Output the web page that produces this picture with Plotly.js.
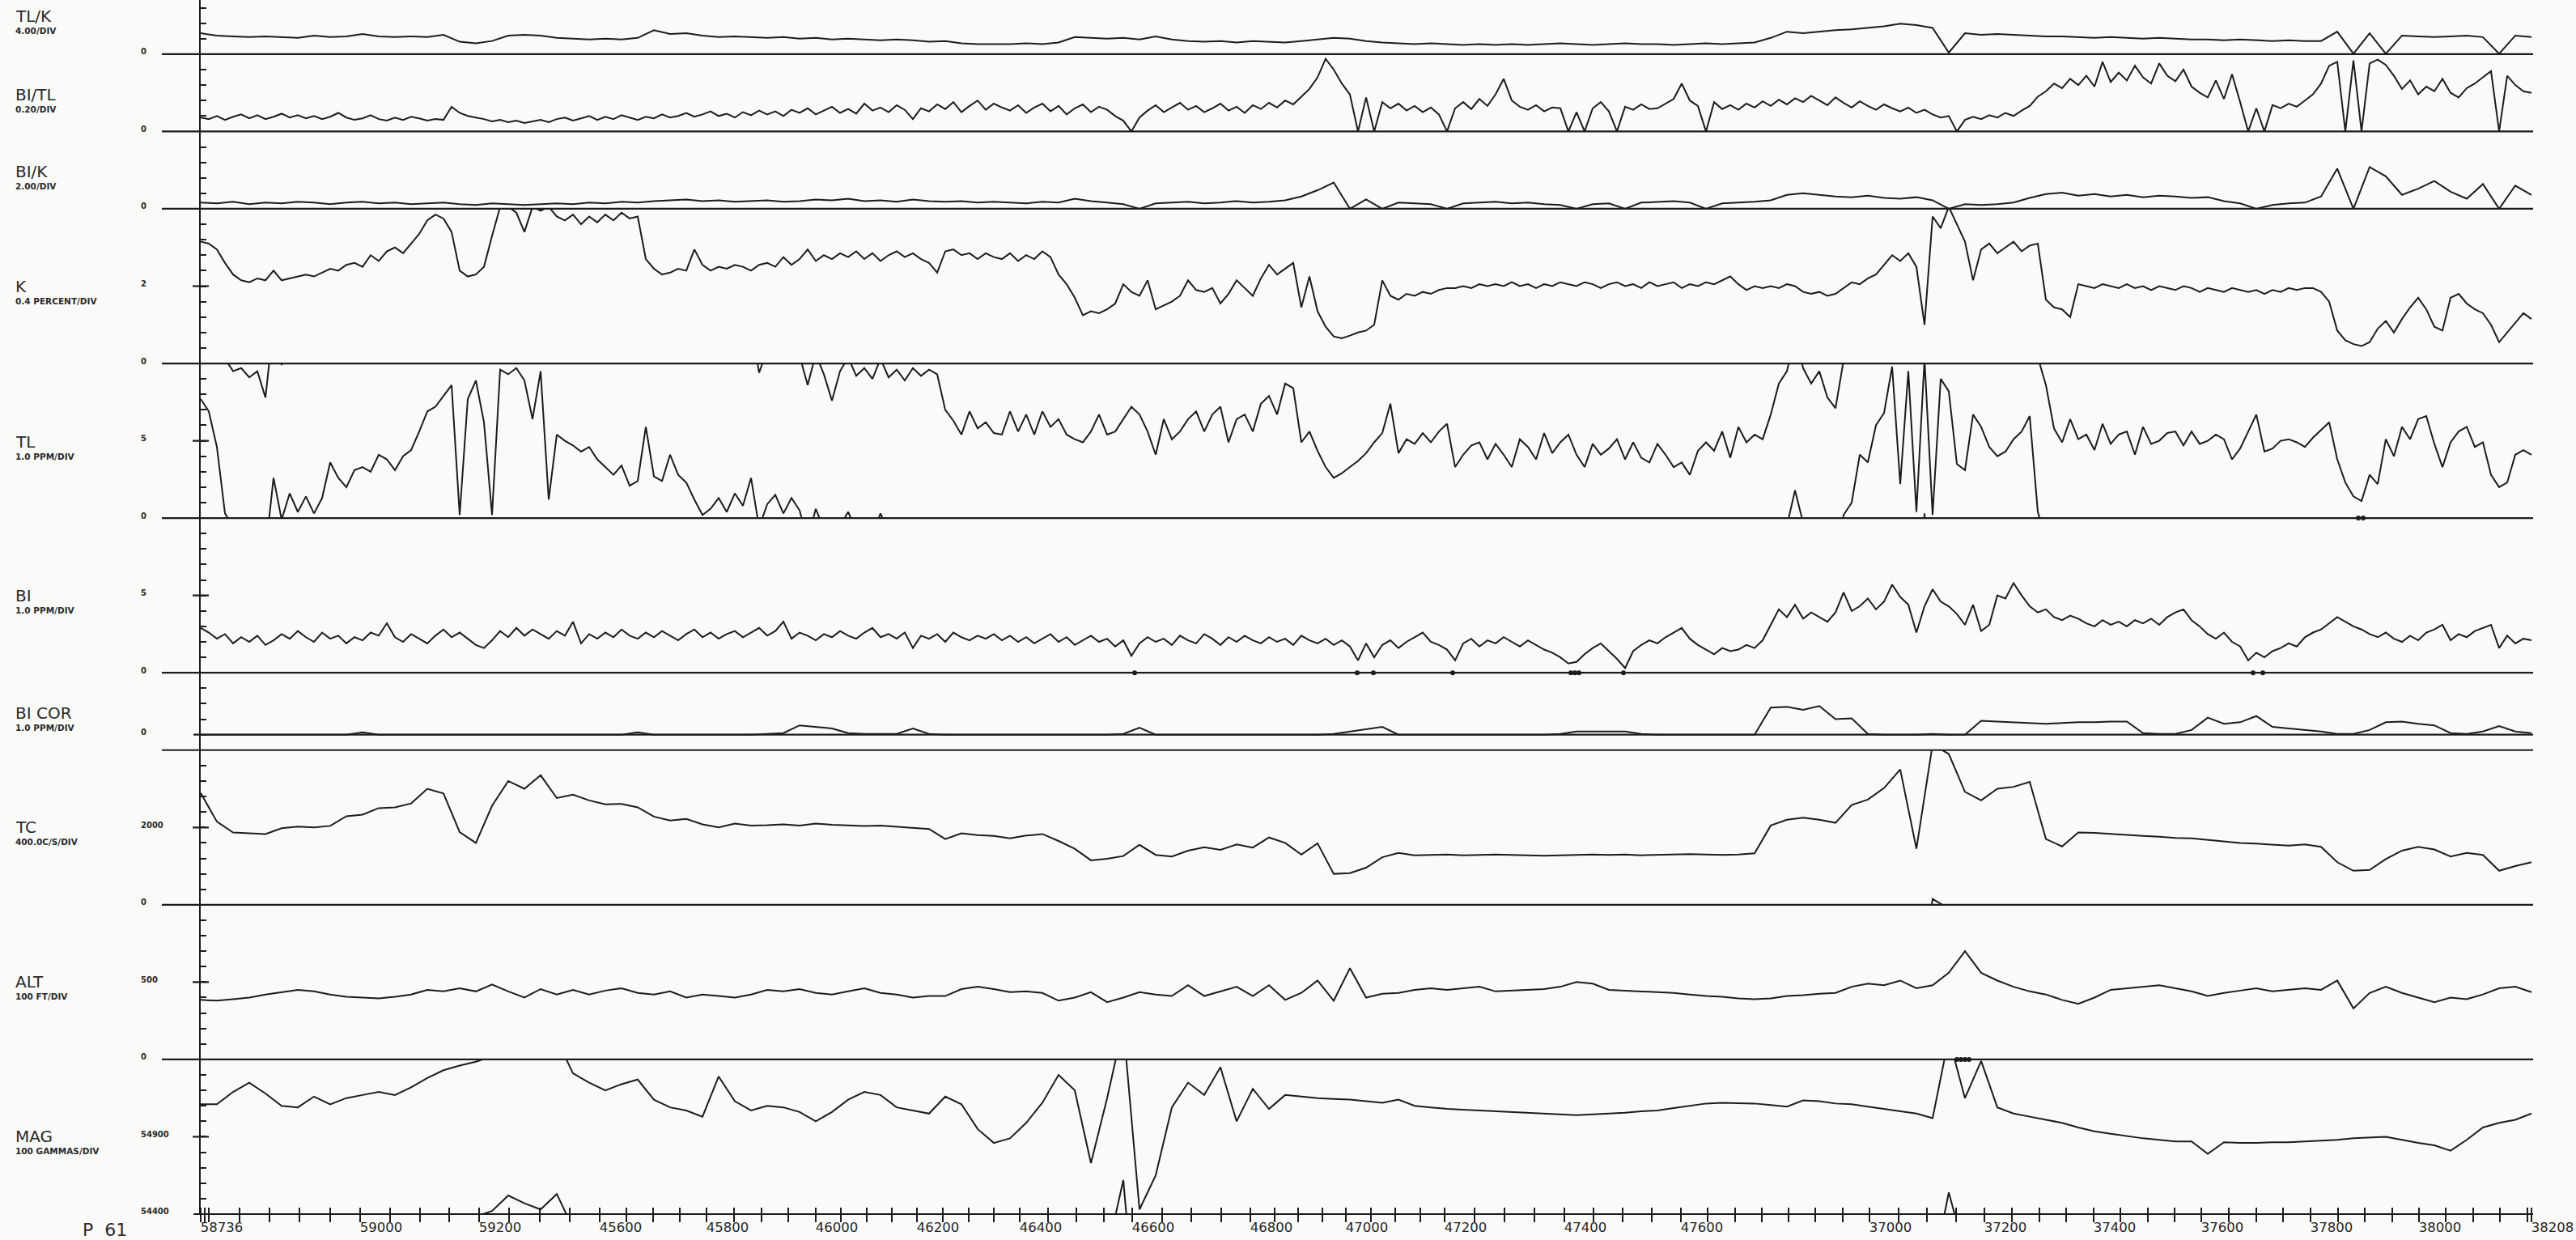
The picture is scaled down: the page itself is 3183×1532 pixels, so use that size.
<!DOCTYPE html>
<html>
<head>
<meta charset="utf-8">
<script src="https://cdn.plot.ly/plotly-3.0.1.min.js"></script>
<style>
  html, body { margin: 0; padding: 0; background: #fafaf8; }
  #chart { width: 3183px; height: 1532px; }
</style>
</head>
<body>
<div id="chart"></div>
<script>
// ---- Flight line P 61: fiducial labels and their record positions ----
const fidLabels = ['58736','59000','59200','45600','45800','46000','46200','46400','46600','46800','47000','47200','47400','47600','37000','37200','37400','37600','37800','38000','38208'];
const fidPos = [0,19.7,34.4,49.3,62.5,76.0,88.5,101.2,115.1,129.7,141.5,153.7,168.5,182.9,206.2,220.4,233.9,247.2,260.7,274.1,288.0];

// ---- Profiles (records 0..288; step 2 series every other record) ----
const tlk = [
5.4,4.8,4.6,4.4,4.6,4.4,4.2,4.8,4.4,4.6,
5.2,4.6,4.4,4.6,4.4,5.0,3.2,2.8,3.4,4.8,
5.0,4.8,4.2,4.0,3.8,4.0,3.8,4.2,6.2,5.2,
5.4,4.8,4.4,4.6,4.4,4.2,4.4,4.0,4.2,3.8,
4.0,3.8,3.6,3.8,3.6,3.2,3.4,2.8,2.6,2.6,
2.6,2.8,2.6,3.0,4.4,4.2,4.0,4.2,3.8,4.6,
3.8,3.4,3.2,3.4,3.0,3.4,3.2,3.0,3.4,3.8,
4.2,4.0,3.4,3.0,2.8,2.6,2.8,2.6,2.4,2.6,
2.4,2.6,2.4,2.6,2.8,2.6,2.4,2.6,2.8,2.6,
2.6,2.4,2.6,2.8,2.6,2.8,3.0,4.2,5.8,5.4,
5.8,6.2,6.4,6.8,7.2,7.9,7.5,6.8,0.4,5.4,
5.0,5.2,5.0,4.8,4.6,4.6,4.4,4.2,4.4,4.2,
4.0,4.2,4.0,3.8,3.8,3.6,3.8,3.6,3.4,3.6,
3.4,3.4,5.8,0.1,5.4,0.1,4.8,4.6,4.4,4.6,
4.8,4.4,0.1,4.8,4.4];

const bitl = [
0.18,0.16,0.20,0.15,0.19,0.22,0.17,0.21,0.16,0.19,
0.23,0.18,0.21,0.17,0.20,0.16,0.19,0.24,0.18,0.15,
0.17,0.21,0.16,0.14,0.18,0.15,0.19,0.17,0.14,0.16,
0.15,0.32,0.24,0.20,0.18,0.16,0.13,0.15,0.12,0.14,
0.11,0.13,0.15,0.12,0.16,0.18,0.14,0.17,0.20,0.15,
0.19,0.16,0.21,0.18,0.15,0.19,0.17,0.22,0.18,0.20,
0.24,0.19,0.22,0.26,0.20,0.23,0.18,0.25,0.21,0.27,
0.22,0.26,0.20,0.28,0.24,0.30,0.22,0.27,0.32,0.24,
0.29,0.23,0.36,0.27,0.31,0.25,0.34,0.28,0.16,0.30,
0.26,0.35,0.29,0.38,0.25,0.33,0.40,0.28,0.36,0.31,
0.27,0.34,0.24,0.31,0.36,0.26,0.33,0.22,0.30,0.35,
0.25,0.32,0.28,0.20,0.14,0.00,0.18,0.27,0.34,0.25,
0.31,0.37,0.28,0.33,0.25,0.30,0.36,0.27,0.32,0.24,
0.34,0.29,0.37,0.31,0.40,0.35,0.45,0.55,0.70,0.94,
0.80,0.62,0.48,0.00,0.44,0.00,0.38,0.30,0.36,0.27,
0.33,0.25,0.31,0.22,0.00,0.30,0.38,0.29,0.42,0.33,
0.48,0.68,0.40,0.32,0.28,0.34,0.26,0.31,0.30,0.00,
0.25,0.00,0.30,0.38,0.26,0.00,0.32,0.28,0.35,0.29,
0.30,0.36,0.42,0.62,0.40,0.33,0.00,0.38,0.29,0.34,
0.28,0.36,0.31,0.39,0.33,0.41,0.35,0.43,0.38,0.46,
0.40,0.34,0.44,0.37,0.31,0.39,0.33,0.28,0.35,0.30,
0.26,0.31,0.24,0.28,0.22,0.18,0.20,0.00,0.15,0.19,
0.16,0.21,0.18,0.24,0.20,0.27,0.33,0.45,0.52,0.62,
0.56,0.68,0.60,0.72,0.58,0.90,0.64,0.76,0.66,0.85,
0.70,0.62,0.88,0.72,0.65,0.80,0.58,0.50,0.44,0.66,
0.42,0.74,0.38,0.00,0.30,0.00,0.34,0.30,0.36,0.32,
0.40,0.48,0.62,0.85,0.90,0.00,0.92,0.00,0.88,0.93,
0.86,0.72,0.55,0.66,0.48,0.58,0.52,0.68,0.50,0.44,
0.56,0.62,0.70,0.78,0.00,0.72,0.60,0.52,0.50];

const bik = [
0.8,0.7,0.9,0.6,0.8,0.7,0.9,0.8,0.6,0.8,
0.9,0.7,0.8,0.6,0.7,0.8,0.6,0.5,0.7,0.6,
0.5,0.6,0.7,0.6,0.8,0.7,0.9,0.8,1.0,1.1,
1.2,1.0,1.1,0.9,1.0,1.1,0.9,1.0,1.2,1.1,
1.3,1.0,1.1,0.9,1.2,1.0,0.9,1.0,0.8,0.9,
0.8,0.7,0.9,0.8,1.3,1.0,0.8,0.6,0.0,0.7,
0.8,0.9,0.7,0.8,1.0,0.8,0.9,1.1,1.6,2.4,
3.4,0.0,1.2,0.0,0.8,0.7,0.6,0.0,0.7,0.8,
0.9,0.7,0.8,0.6,0.5,0.0,0.6,0.7,0.0,0.8,
0.9,1.0,0.8,0.0,0.7,0.8,0.9,1.1,1.8,2.0,
1.8,1.6,1.5,1.7,1.4,1.3,1.5,1.1,0.0,0.6,
0.5,0.6,0.8,1.4,1.9,2.1,1.7,1.9,1.6,1.8,
1.5,1.7,1.6,1.4,1.5,1.0,0.7,0.0,0.5,0.7,
0.8,1.6,5.2,0.0,5.4,4.2,1.8,2.6,3.6,2.2,
1.3,3.2,0.0,3.0,1.8];

const kpct = [
3.15,3.10,2.95,2.60,2.30,2.15,2.10,2.20,2.15,2.40,
2.15,2.20,2.25,2.30,2.25,2.35,2.45,2.40,2.55,2.60,
2.50,2.80,2.65,2.90,3.00,2.85,3.10,3.35,3.70,3.85,
3.75,3.40,2.40,2.25,2.30,2.50,3.30,4.05,4.05,3.90,
3.40,4.05,3.95,4.05,3.80,3.70,3.85,3.60,3.80,3.65,
3.85,3.70,3.90,3.75,3.80,2.70,2.45,2.30,2.35,2.45,
2.40,2.95,2.55,2.40,2.50,2.45,2.55,2.50,2.40,2.55,
2.60,2.50,2.75,2.55,2.70,2.95,2.65,2.80,2.70,2.85,
2.75,2.90,2.70,2.85,2.65,2.80,2.90,2.75,2.85,2.70,
2.60,2.35,2.90,2.95,2.80,2.85,2.70,2.85,2.75,2.70,
2.85,2.65,2.80,2.70,2.90,2.75,2.30,2.05,1.70,1.25,
1.35,1.30,1.40,1.55,2.05,1.85,1.75,2.15,1.40,1.50,
1.60,1.75,2.15,1.90,1.85,1.95,1.55,1.80,2.15,1.95,
1.75,2.20,2.55,2.30,2.45,2.60,1.45,2.25,1.35,0.95,
0.70,0.65,0.72,0.80,0.85,1.00,2.15,1.75,1.65,1.80,
1.75,1.85,1.80,1.90,1.95,1.95,2.00,1.95,2.05,2.00,
2.05,2.00,2.10,2.00,2.05,1.95,2.05,2.00,2.10,2.05,
2.00,2.10,2.05,1.95,2.05,2.10,2.00,2.05,1.95,2.10,
2.00,2.05,2.10,1.95,2.05,2.00,2.10,2.05,2.15,2.25,
2.05,1.90,2.00,1.95,2.00,1.95,2.05,2.00,1.85,1.80,
1.85,1.75,1.80,1.95,2.10,2.05,2.20,2.30,2.55,2.80,
2.65,2.85,2.50,1.00,3.80,3.50,4.05,3.60,3.15,2.15,
2.95,3.10,2.85,3.00,3.15,2.90,3.05,3.10,1.65,1.45,
1.40,1.20,2.05,2.00,1.95,2.05,2.00,1.95,2.05,1.95,
2.00,1.90,2.00,1.95,1.90,2.00,1.95,1.85,1.95,1.90,
1.85,1.95,1.90,1.85,1.90,1.80,1.90,1.85,1.95,1.90,
1.95,1.95,1.85,1.60,0.85,0.60,0.50,0.45,0.55,0.90,
1.10,0.80,1.15,1.45,1.70,1.40,0.95,0.85,1.70,1.80,
1.55,1.40,1.30,1.00,0.55,0.80,1.05,1.30,1.15];

const tl = [
17.7,16.9,14.6,10.3,9.5,9.7,9.1,9.5,7.8,12.6,
9.9,11.6,10.4,11.4,10.3,11.3,13.6,12.6,12.0,13.1,
13.3,13.0,14.1,13.8,13.1,14.0,14.4,15.6,16.9,17.2,
17.9,18.6,10.2,17.7,18.9,16.2,10.2,19.6,19.3,19.7,
18.9,16.4,19.5,11.2,15.4,15.0,14.7,14.3,14.6,13.8,
13.3,12.8,13.4,12.1,12.4,15.9,12.7,12.4,14.1,12.8,
12.3,11.2,10.2,10.6,11.3,10.4,11.6,10.8,12.6,9.4,
10.9,11.5,10.3,11.3,10.5,8.6,10.6,9.3,7.6,9.5,
10.4,9.2,9.7,9.0,10.3,9.1,9.6,8.9,9.7,9.2,
9.6,9.3,7.0,6.3,5.4,6.9,5.8,6.2,5.5,5.4,
6.9,5.6,6.7,5.4,6.9,5.9,6.4,5.4,5.1,4.9,
5.6,6.7,5.4,5.6,6.4,7.2,6.7,5.6,4.1,6.4,
5.1,5.6,6.4,6.9,5.6,6.7,7.2,4.9,6.4,6.7,
5.6,7.4,7.9,6.7,8.7,8.4,4.9,5.6,4.35,3.3,
2.6,2.9,3.3,3.7,4.2,4.9,5.5,7.4,4.2,5.1,
4.8,5.5,4.9,5.6,6.1,3.3,4.1,4.7,4.9,3.8,
4.8,4.1,3.3,5.1,4.6,3.8,5.5,4.2,4.9,5.4,
4.1,3.3,4.8,4.1,4.5,5.1,3.8,4.9,3.9,3.6,
4.8,4.1,3.3,3.6,2.8,4.35,4.9,4.35,5.6,3.9,
5.9,4.9,5.4,5.1,6.7,8.7,9.5,11.8,9.7,8.7,
9.5,7.8,7.1,10.2,11.0,14.1,13.6,16.0,16.8,19.8,
12.2,19.5,10.4,20.3,10.2,19.0,18.2,13.5,13.1,16.7,
15.9,14.6,14.0,14.3,15.1,15.6,16.6,10.4,8.6,5.8,
4.9,6.4,5.1,5.4,4.4,6.1,4.8,5.4,5.6,4.1,
5.9,4.8,5.0,5.5,5.6,4.7,5.6,4.8,5.0,5.4,
5.1,3.8,4.5,5.6,6.7,4.3,4.5,5.0,5.1,4.9,
4.6,5.2,5.7,6.2,3.8,2.3,1.4,1.1,2.8,2.2,
5.1,4.0,5.9,5.1,6.4,6.6,4.8,3.3,4.9,5.6,
5.9,4.6,4.9,2.8,2.0,2.3,4.1,4.4,4.1];

const bi = [
2.9,2.6,2.2,2.5,1.9,2.3,2.0,2.4,1.8,2.1,
2.5,2.2,2.7,2.3,2.0,2.6,2.2,2.4,1.9,2.3,
2.1,2.6,2.4,3.2,2.3,2.0,2.5,2.2,1.9,2.4,
2.8,2.3,2.6,2.2,1.8,1.6,2.1,2.7,2.3,2.9,
2.4,2.8,2.5,2.2,2.7,2.4,3.3,1.9,2.5,2.2,
2.6,2.3,2.8,2.4,2.2,2.6,2.3,2.7,2.4,2.1,
2.5,2.8,2.3,2.6,2.2,2.5,2.7,2.3,2.6,2.9,
2.4,2.7,3.3,2.2,2.6,2.4,2.1,2.5,2.3,2.7,
2.4,2.2,2.6,2.9,2.3,2.5,2.2,2.6,1.6,2.4,
2.2,2.5,2.0,2.6,2.3,2.1,2.4,2.2,2.5,2.1,
2.4,2.0,2.3,1.9,2.2,2.5,2.0,2.3,1.8,2.1,
2.4,2.0,2.2,1.7,2.1,1.1,1.9,2.3,2.0,2.2,
1.8,2.4,2.1,1.9,2.5,2.2,1.8,2.3,2.0,2.4,
2.1,1.9,2.3,2.0,2.2,1.8,2.4,2.1,1.9,2.2,
1.8,2.1,1.7,0.8,1.9,1.0,1.8,2.1,1.6,2.0,
2.3,2.6,2.0,1.8,1.5,0.8,1.9,2.2,1.7,2.1,
1.9,2.3,2.0,1.7,2.1,1.8,1.5,1.3,1.0,0.6,
0.7,1.2,1.6,1.9,1.4,0.9,0.3,1.4,1.8,2.1,
1.9,2.3,2.6,2.9,2.2,1.8,1.5,1.2,1.6,1.4,
1.5,1.8,1.6,2.1,3.1,4.1,3.6,4.4,3.5,3.9,
3.6,3.3,3.9,5.2,4.0,4.3,4.8,4.1,4.6,5.7,
4.9,4.4,2.6,4.3,5.4,4.6,4.3,3.8,3.1,4.4,
2.7,3.1,5.0,4.8,5.8,5.0,4.3,3.9,4.1,3.6,
3.4,3.7,3.5,3.2,3.0,3.4,3.1,3.3,3.0,3.4,
3.2,3.5,3.1,3.6,3.9,4.1,3.4,3.0,2.5,2.2,
2.6,2.0,1.7,0.8,1.3,1.0,1.4,1.6,1.9,1.7,
2.3,2.6,2.8,3.2,3.6,3.3,3.0,2.8,2.5,2.3,
2.6,2.2,2.0,2.4,2.1,2.6,2.8,3.1,2.1,2.5,
2.3,2.7,2.9,3.1,1.6,2.4,1.9,2.2,2.1];

const bicor = [
0,0,0,0,0,0,0,0,0,0,
0.15,0,0,0,0,0,0,0,0,0,
0,0,0,0,0,0,0,0.15,0,0,
0,0,0,0,0,0.05,0.1,0.6,0.5,0.4,
0.1,0.05,0.05,0.05,0.4,0.05,0,0,0,0,
0,0,0,0,0,0,0,0.05,0.45,0,
0,0,0,0,0,0,0,0,0,0,
0.05,0.2,0.35,0.5,0,0,0,0,0,0,
0,0,0,0,0.05,0.2,0.2,0.2,0.2,0.05,
0,0,0,0,0,0,0,1.75,1.8,1.6,
1.85,1.0,1.05,0.05,0,0,0,0.05,0,0,
0.9,0.85,0.8,0.75,0.7,0.75,0.8,0.8,0.85,0.85,
0.1,0.05,0.05,0.3,1.1,0.7,0.8,1.2,0.5,0.4,
0.3,0.2,0.05,0.05,0.3,0.8,0.85,0.7,0.6,0.1,
0.05,0.2,0.55,0.2,0.1];

const tc = [
2890,2150,1870,1850,1830,1980,2020,2000,2040,2290,
2330,2500,2520,2620,3000,2880,1880,1600,2560,3200,
3000,3350,2760,2850,2700,2600,2610,2520,2280,2180,
2220,2080,2000,2100,2050,2060,2080,2050,2100,2070,
2060,2040,2050,2020,2000,1960,1700,1850,1800,1780,
1720,1790,1830,1650,1450,1150,1190,1260,1550,1290,
1250,1400,1490,1420,1560,1480,1740,1600,1300,1590,
800,820,960,1230,1340,1280,1290,1300,1280,1290,
1300,1290,1280,1270,1280,1290,1300,1290,1300,1280,
1290,1300,1310,1300,1290,1300,1330,2050,2200,2250,
2200,2120,2580,2720,3020,3500,1450,4150,3900,2920,
2700,3000,3050,3180,1700,1510,1870,1860,1830,1800,
1780,1760,1730,1720,1680,1650,1600,1580,1550,1530,
1560,1500,1100,880,900,1180,1400,1500,1430,1250,
1340,1290,880,1000,1100];

const alt = [
385,380,390,400,420,435,450,440,420,405,
400,395,405,420,450,440,460,440,485,440,
400,455,420,450,420,445,460,430,420,440,
400,420,410,400,420,450,440,455,430,420,
440,460,430,420,400,410,410,455,470,455,
435,440,430,380,400,435,370,400,435,420,
410,480,410,440,470,410,480,385,430,510,
380,590,400,425,430,450,460,450,460,470,
440,445,450,455,470,500,490,450,445,440,
435,430,420,410,405,395,390,395,410,415,
425,430,470,490,480,510,460,480,560,700,
560,510,470,440,420,385,360,400,450,460,
470,480,460,440,410,430,445,460,440,450,
460,450,510,330,430,470,430,400,370,400,
390,420,460,470,435];

const mag = [
55110,55110,55190,55250,55180,55100,55090,55160,55110,55150,
55170,55190,55170,55220,55280,55330,55360,55385,55420,55520,
55470,55430,55530,55310,55250,55200,55240,55270,55140,55090,
55070,55030,55290,55130,55070,55100,55090,55060,55000,55060,
55140,55190,55170,55090,55070,55050,55160,55110,54950,54860,
54890,54990,55120,55300,55200,54730,55150,55620,54430,54650,
55090,55250,55170,55350,55000,55210,55080,55170,55160,55150,
55145,55140,55130,55120,55140,55100,55090,55080,55075,55070,
55065,55060,55055,55050,55045,55040,55045,55050,55055,55065,
55070,55085,55100,55115,55120,55118,55115,55105,55095,55135,
55130,55115,55110,55095,55080,55065,55050,55020,55540,55150,
55390,55090,55050,55030,55010,54990,54960,54935,54920,54905,
54890,54880,54870,54870,54790,54865,54860,54860,54865,54865,
54870,54875,54880,54890,54895,54900,54880,54860,54845,54810,
54880,54960,54990,55010,55050];

// off-scale / negative-value flags plotted on the profile baselines
const biFlags = [115.4,142.9,144.9,154.7,169.3,169.8,170.3,175.8,253.6,254.8];
const tlFlags = [266.6,267.2];
const magFlags = [217.0,217.5,218.0,218.5];

// ---- Panel set-up (heights in chart divisions, top to bottom) ----
const INK = '#1c1c1c';
const panels = [
  {name:'TL/K',   unit:'4.00/DIV',        data:tlk,   step:2, divs:3.5, range:[0,14],          dtick:4,   ticks:[0],           mid:null,  labelAt:9.8},
  {name:'BI/TL',  unit:'0.20/DIV',        data:bitl,  step:1, divs:5,   range:[0,1],           dtick:0.2, ticks:[0],           mid:null,  labelAt:0.48},
  {name:'BI/K',   unit:'2.00/DIV',        data:bik,   step:2, divs:5,   range:[0,10],          dtick:2,   ticks:[0],           mid:null,  labelAt:4.8},
  {name:'K',      unit:'0.4 PERCENT/DIV', data:kpct,  step:1, divs:10,  range:[0,4],           dtick:0.4, ticks:[0,2],         mid:2,     labelAt:2},
  {name:'TL',     unit:'1.0 PPM/DIV',     data:tl,    step:1, divs:10,  range:[0,10],          dtick:1,   ticks:[0,5],         mid:5,     labelAt:4.9, wrap:[-10,-20]},
  {name:'BI',     unit:'1.0 PPM/DIV',     data:bi,    step:1, divs:10,  range:[0,10],          dtick:1,   ticks:[0,5],         mid:5,     labelAt:5},
  {name:'BI COR', unit:'1.0 PPM/DIV',     data:bicor, step:2, divs:5,   range:[-1,4],          dtick:1,   ticks:[0],           mid:null,  labelAt:1.4},
  {name:'TC',     unit:'400.0C/S/DIV',    data:tc,    step:2, divs:10,  range:[0,4000],        dtick:400, ticks:[0,2000],      mid:2000,  labelAt:2000, wrap:[-4000]},
  {name:'ALT',    unit:'100 FT/DIV',      data:alt,   step:2, divs:10,  range:[0,1000],        dtick:100, ticks:[0,500],       mid:500,   labelAt:500},
  {name:'MAG',    unit:'100 GAMMAS/DIV',  data:mag,   step:2, divs:10,  range:[54400,55400],   dtick:100, ticks:[54400,54900], mid:54900, labelAt:54900, wrap:[-1000]}
];

const W = 3183, H = 1532;
const M = {l:248, r:53, t:0, b:32};
const plotW = W - M.l - M.r, plotH = H - M.t - M.b;
const totalDivs = panels.reduce((s,p)=>s+p.divs,0);
const px2x = px => px / plotW;           // horizontal pixel offset -> paper fraction
const px2y = px => px / plotH;

let acc = 0;
panels.forEach(p => {
  p.domain = [1 - (acc + p.divs)/totalDivs, 1 - acc/totalDivs];
  acc += p.divs;
});

// minor ticks: every 50 fiducials, evenly split across fiducial sequence breaks
function minorTicks() {
  const out = [0.5];
  for (let i = 0; i < fidLabels.length - 1; i++) {
    const a = +fidLabels[i], b = +fidLabels[i+1], pa = fidPos[i], pb = fidPos[i+1];
    if (b > a) {
      for (let f = Math.floor(a/50)*50 + 50; f < b; f += 50) out.push(pa + (f - a)/(b - a)*(pb - pa));
    } else {
      const n = Math.max(1, Math.round((pb - pa)/3.5));
      for (let k = 1; k < n; k++) out.push(pa + k*(pb - pa)/n);
    }
  }
  return out;
}

const traces = [];
const layout = {
  width: W, height: H,
  margin: M,
  paper_bgcolor: '#fafaf8', plot_bgcolor: '#fafaf8',
  showlegend: false, hovermode: false,
  font: {family: 'DejaVu Sans', color: INK},
  xaxis: {
    domain: [0,1], range: [0, plotW/10], anchor: 'free', position: px2y(9),
    showline: false, showgrid: false, zeroline: false, fixedrange: true,
    tickmode: 'array', tickvals: fidPos, ticktext: fidLabels,
    ticks: 'outside', ticklen: 18, tickwidth: 2, tickcolor: INK,
    tickfont: {family: 'DejaVu Sans', size: 16.5, color: '#262626'},
    ticklabelshift: 26, ticklabelstandoff: -8, ticklabeloverflow: 'allow',
    minor: {tickmode: 'array', tickvals: minorTicks(), ticks: 'outside', ticklen: 18, tickwidth: 2, tickcolor: INK}
  },
  shapes: [],
  annotations: []
};

const LONG = px2x(-48), SHORT = px2x(-9);
const labelX = px2x(17 - M.l), valueX = px2x(172 - M.l);

panels.forEach((p, i) => {
  const ya = i === 0 ? 'y' : 'y' + (i + 1);
  const key = i === 0 ? 'yaxis' : 'yaxis' + (i + 1);
  const x = p.data.map((_, k) => k * p.step);

  // the profile, plus rolled-over copies where the trace wraps the panel scale
  [0].concat(p.wrap || []).forEach(off => {
    traces.push({
      type: 'scatter', mode: 'lines', x: x, y: p.data.map(v => v + off),
      xaxis: 'x', yaxis: ya, hoverinfo: 'skip',
      line: {color: INK, width: 2}
    });
  });

  layout[key] = {
    domain: p.domain, range: p.range, anchor: 'x',
    showline: true, linecolor: INK, linewidth: 2,
    ticks: 'inside', ticklen: 7, tickwidth: 2, tickcolor: INK,
    tick0: 0, dtick: p.dtick, showticklabels: false,
    showgrid: false, zeroline: false, fixedrange: true
  };

  // panel baseline
  const isMag = p.name === 'MAG';
  layout.shapes.push({type: 'line', xref: 'paper', yref: 'paper',
    x0: isMag ? SHORT : LONG, x1: 1, y0: p.domain[0], y1: p.domain[0],
    line: {color: INK, width: 2.2}});
  if (p.name === 'BI COR') {
    layout.shapes.push({type: 'line', xref: 'paper', yref: ya,
      x0: SHORT, x1: 1, y0: 0, y1: 0, line: {color: INK, width: 2.2}});
  }
  if (p.mid !== null) {
    layout.shapes.push({type: 'line', xref: 'paper', yref: ya,
      x0: px2x(-10), x1: px2x(10), y0: p.mid, y1: p.mid, line: {color: INK, width: 2.2}});
  }

  // channel name and scale
  layout.annotations.push({xref: 'paper', yref: ya, x: labelX, y: p.labelAt,
    xanchor: 'left', yanchor: 'middle', showarrow: false, text: p.name,
    font: {family: 'DejaVu Sans', size: 20, color: '#2a2a2a'}});
  layout.annotations.push({xref: 'paper', yref: ya, x: labelX, y: p.labelAt, yshift: -18,
    xanchor: 'left', yanchor: 'middle', showarrow: false, text: p.unit,
    font: {family: 'DejaVu Sans', size: 10.5, color: '#2a2a2a', weight: 'bold'}});

  // scale values
  p.ticks.forEach(v => {
    layout.annotations.push({xref: 'paper', yref: ya, x: valueX, y: v, yshift: 3,
      xanchor: 'left', yanchor: 'middle', showarrow: false, text: String(v),
      font: {family: 'DejaVu Sans', size: 10, color: '#2a2a2a', weight: 'bold'}});
  });
});

// flag markers
function flagTrace(xs, yval, ya) {
  return {type: 'scatter', mode: 'markers', x: xs, y: xs.map(() => yval),
    xaxis: 'x', yaxis: ya, cliponaxis: false, hoverinfo: 'skip',
    marker: {symbol: 'circle', size: 6, color: INK}};
}
traces.push(flagTrace(biFlags, 0, 'y6'));
traces.push(flagTrace(tlFlags, 0, 'y5'));
traces.push(flagTrace(magFlags, 55400, 'y10'));

// line number
layout.annotations.push({xref: 'paper', yref: 'paper', x: px2x(100 - M.l), y: -px2y(19),
  xanchor: 'left', yanchor: 'middle', showarrow: false, text: 'P\u00a0\u00a061',
  font: {family: 'DejaVu Sans', size: 22, color: '#2a2a2a'}});

Plotly.newPlot('chart', traces, layout, {staticPlot: true, displayModeBar: false});
</script>
</body>
</html>
